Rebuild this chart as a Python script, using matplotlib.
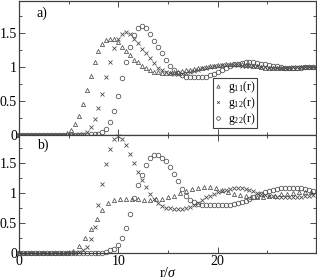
import numpy as np
import matplotlib
matplotlib.use("Agg")
import matplotlib.pyplot as plt
from matplotlib.ticker import MultipleLocator

plt.rcParams['font.family'] = ['Liberation Serif', 'DejaVu Serif']
plt.rcParams['mathtext.fontset'] = 'custom'
plt.rcParams['mathtext.rm'] = 'Liberation Serif'
plt.rcParams['mathtext.it'] = 'Liberation Serif:italic'

## Data
# panel a), all on a 0.4 sigma grid
g11_a = [0, 0, 0, 0, 0, 0, 0, 0, 0, 0, 0, 0, 0.03, 0.08, 0.16, 0.28, 0.45, 0.66, 0.87, 1.07,
         1.23, 1.34, 1.40, 1.42, 1.41, 1.37, 1.30, 1.23, 1.17, 1.11, 1.07, 1.02, 0.99, 0.96, 0.93,
         0.92, 0.91, 0.91, 0.91, 0.92, 0.93, 0.94, 0.95, 0.96, 0.97, 0.98, 0.99, 1.00, 1.01, 1.02,
         1.03, 1.03, 1.04, 1.04, 1.04, 1.04, 1.04, 1.03, 1.03, 1.02, 1.01, 1.00, 0.99, 0.99, 0.99,
         0.99, 0.98, 0.98, 0.99, 0.99, 0.99, 1.00, 1.00, 1.00, 1.00]
g12_a = [0, 0, 0, 0, 0, 0, 0, 0, 0, 0, 0, 0, 0, 0, 0, 0.01, 0.02, 0.04, 0.12, 0.24,
         0.40, 0.61, 0.85, 1.08, 1.28, 1.41, 1.49, 1.51, 1.48, 1.42, 1.35, 1.27, 1.20, 1.13, 1.06,
         0.99, 0.95, 0.92, 0.91, 0.90, 0.90, 0.90, 0.91, 0.92, 0.94, 0.96, 0.98, 0.99, 1.00, 1.01,
         1.02, 1.03, 1.03, 1.03, 1.03, 1.03, 1.02, 1.02, 1.02, 1.01, 1.01, 1.00, 1.00, 0.99, 0.99,
         0.99, 0.99, 0.99, 0.99, 1.00, 1.00, 1.00, 1.00, 1.00, 1.00]
g22_a = [0, 0, 0, 0, 0, 0, 0, 0, 0, 0, 0, 0, 0, 0, 0, 0, 0, 0, 0.01, 0.01,
         0.02, 0.05, 0.09, 0.19, 0.36, 0.57, 0.84, 1.08, 1.30, 1.47, 1.58, 1.61, 1.57, 1.49, 1.39,
         1.29, 1.20, 1.10, 1.02, 0.95, 0.91, 0.88, 0.86, 0.86, 0.86, 0.85, 0.85, 0.86, 0.88, 0.90,
         0.93, 0.96, 0.99, 1.02, 1.04, 1.05, 1.06, 1.07, 1.07, 1.07, 1.06, 1.05, 1.04, 1.03, 1.02,
         1.01, 1.00, 0.99, 0.99, 0.99, 0.99, 0.99, 1.00, 1.00, 1.00]

# panel b), g11 on a 0.6 sigma grid, the others on 0.4
g11_b = [0, 0, 0, 0, 0, 0, 0, 0, 0.01, 0.04, 0.13, 0.26, 0.41, 0.58, 0.72, 0.83, 0.89, 0.91,
         0.91, 0.91, 0.90, 0.88, 0.89, 0.90, 0.91, 0.93, 0.96, 1.00, 1.04, 1.07, 1.09, 1.10, 1.10,
         1.08, 1.05, 1.02, 0.99, 0.97, 0.95, 0.94, 0.94, 0.94, 0.95, 0.96, 0.98, 0.99, 1.01, 1.02,
         1.02, 1.02]
g12_b = [0, 0, 0, 0, 0, 0, 0, 0, 0, 0, 0, 0, 0, 0, 0, 0.02, 0.05, 0.10, 0.24, 0.44,
         0.80, 1.15, 1.48, 1.74, 1.90, 1.96, 1.91, 1.80, 1.66, 1.51, 1.35, 1.22, 1.10, 0.99, 0.91,
         0.84, 0.79, 0.76, 0.75, 0.74, 0.74, 0.74, 0.75, 0.77, 0.80, 0.84, 0.89, 0.93, 0.96, 0.99,
         1.02, 1.04, 1.06, 1.07, 1.08, 1.08, 1.08, 1.07, 1.05, 1.03, 1.01, 0.99, 0.97, 0.96, 0.95,
         0.94, 0.93, 0.93, 0.93, 0.93, 0.94, 0.94, 0.95, 0.96, 0.97]
g22_b = [0, 0, 0, 0, 0, 0, 0, 0, 0, 0, 0, 0, 0, 0, 0, 0, 0, 0, 0, 0,
         0, 0.01, 0.02, 0.05, 0.08, 0.14, 0.26, 0.43, 0.65, 0.92, 1.13, 1.31, 1.47, 1.58, 1.63,
         1.63, 1.59, 1.53, 1.44, 1.32, 1.20, 1.07, 0.96, 0.89, 0.85, 0.82, 0.81, 0.80, 0.80, 0.80,
         0.80, 0.80, 0.81, 0.81, 0.82, 0.83, 0.85, 0.87, 0.90, 0.93, 0.96, 0.99, 1.02, 1.04, 1.06,
         1.07, 1.08, 1.09, 1.09, 1.09, 1.08, 1.08, 1.07, 1.05, 1.03]

labels = [r'g$_{11}$(r)', r'g$_{12}$(r)', r'g$_{22}$(r)']
yticks = [0, 0.5, 1, 1.5]
ytick_labels = ['0', '0.5', '1', '1.5']
xticks = [0, 10, 20]
xtick_labels = ['0', '10', '20']

step_fine = 0.4
step_coarse = 0.6

def grid(values, step):
    return np.arange(len(values)) * step

mk = dict(linestyle='none', color='0.3', clip_on=False)
tri = dict(marker='^', markersize=3.0, markerfacecolor='none', markeredgewidth=0.55)
crs = dict(marker='x', markersize=2.3, markeredgewidth=0.6)
cir = dict(marker='o', markersize=3.3, markerfacecolor='none', markeredgewidth=0.55)

def style_axes(ax, show_x):
    ax.set_xlim(0, 29.9)
    ax.set_ylim(0, 1.97)
    ax.set_yticks(yticks)
    ax.set_yticklabels(ytick_labels)
    ax.set_xticks(xticks)
    ax.set_xticklabels(xtick_labels if show_x else [])
    ax.xaxis.set_minor_locator(MultipleLocator(5))
    ax.yaxis.set_minor_locator(MultipleLocator(0.25))
    ax.tick_params(which='both', direction='in', top=True, right=True,
                   labelsize=10, pad=1.5, width=0.7, color='0.3')
    ax.tick_params(which='major', length=4)
    ax.tick_params(which='minor', length=2.5)
    for s in ax.spines.values():
        s.set_linewidth(0.9)
        s.set_color('0.25')

fig = plt.figure(figsize=(3.17, 2.79), dpi=100)
ax_a = fig.add_axes([0.060, 0.516, 0.937, 0.480])
ax_b = fig.add_axes([0.060, 0.092, 0.937, 0.424])

ax_a.plot(grid(g11_a, step_fine), g11_a, label=labels[0], **mk, **tri)
ax_a.plot(grid(g12_a, step_fine), g12_a, label=labels[1], **mk, **crs)
ax_a.plot(grid(g22_a, step_fine), g22_a, label=labels[2], **mk, **cir)

ax_b.plot(grid(g11_b, step_coarse), g11_b, **mk, **tri)
ax_b.plot(grid(g12_b, step_fine), g12_b, **mk, **crs)
ax_b.plot(grid(g22_b, step_fine), g22_b, **mk, **cir)

style_axes(ax_a, False)
style_axes(ax_b, True)
ax_b.set_xlabel(r'r/$\sigma$', fontsize=10, labelpad=-1.5)

ax_a.text(0.06, 0.96, 'a)', transform=ax_a.transAxes, fontsize=10, va='top')
ax_b.text(0.06, 0.97, 'b)', transform=ax_b.transAxes, fontsize=10, va='top')

leg = ax_a.legend(loc='lower left', bbox_to_anchor=(0.653, 0.05), fancybox=False,
                  edgecolor='0.25', fontsize=8.5, handlelength=0.6, handletextpad=0.6,
                  borderpad=0.1, labelspacing=0.0, borderaxespad=0, framealpha=1,
                  markerscale=0.8)
leg.get_frame().set_linewidth(0.8)

fig.savefig('out.png', dpi=100)
